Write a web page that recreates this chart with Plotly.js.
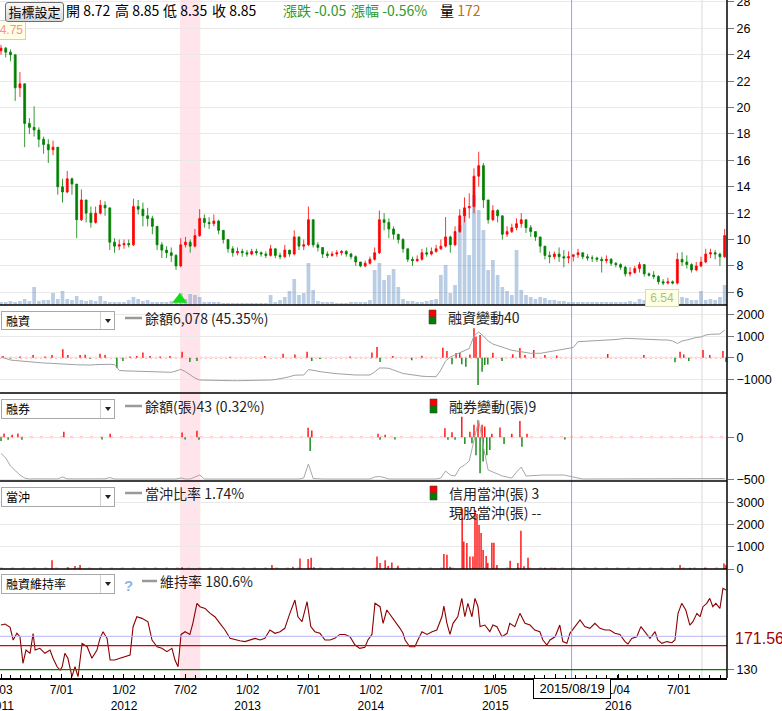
<!DOCTYPE html>
<html>
<head>
<meta charset="utf-8">
<script src="https://cdn.plot.ly/plotly-3.0.1.min.js"></script>
<style>
html,body{margin:0;padding:0;background:#fff;}
#wrap{position:relative;width:782px;height:711px;overflow:hidden;}
#chart{position:absolute;left:0;top:0;width:782px;height:711px;}
.ov{position:absolute;font-family:"Noto Sans CJK TC","Noto Sans",sans-serif;white-space:nowrap;}
.btn{left:5px;top:2px;width:57px;height:18px;border:1px solid #6e6e6e;border-radius:3px;background:linear-gradient(#f8f8f8,#d8d8d8);font-size:13px;line-height:18px;text-align:center;color:#000;}
.hd{top:0;font-size:14px;line-height:21px;color:#000;}
.dd{left:1px;width:112px;border:1px solid #a8a8a8;background:#fff;font-size:12px;color:#000;}
.dd .t{position:absolute;left:4px;top:0;}
.dd .sep{position:absolute;left:98px;top:0;bottom:0;width:1px;background:#d0d0d0;}
.dd .arr{position:absolute;left:103px;width:0;height:0;border-left:3px solid transparent;border-right:3px solid transparent;border-top:4px solid #222;}
</style>
</head>
<body>
<div id="wrap">
<div id="chart"></div>
<div class="ov btn">指標設定</div>
<div class="ov hd" style="left:66px;">開 8.72</div>
<div class="ov hd" style="left:115px;">高 8.85</div>
<div class="ov hd" style="left:163px;">低 8.35</div>
<div class="ov hd" style="left:212px;">收 8.85</div>
<div class="ov hd" style="left:283px;color:#2e9a2e;">漲跌 -0.05</div>
<div class="ov hd" style="left:351px;color:#2e9a2e;">漲幅 -0.56%</div>
<div class="ov hd" style="left:440px;">量 <span style="color:#c07010;">172</span></div>
<div class="ov dd" style="top:311px;height:17px;line-height:17px;"><span class="t">融資</span><span class="sep"></span><span class="arr" style="top:7px;"></span></div>
<div class="ov dd" style="top:399px;height:18px;line-height:18px;"><span class="t">融券</span><span class="sep"></span><span class="arr" style="top:7px;"></span></div>
<div class="ov dd" style="top:487px;height:18px;line-height:18px;"><span class="t">當沖</span><span class="sep"></span><span class="arr" style="top:7px;"></span></div>
<div class="ov dd" style="top:574px;height:18px;line-height:18px;"><span class="t">融資維持率</span><span class="sep"></span><span class="arr" style="top:7px;"></span></div>
</div>
<script>
// ---------- DATA (price/volume/balances sampled every 14 days from 2011-01-03) ----------
const startDate = '2011-01-03';
const gridStepDays = 14;

const priceOpen = [
 24.3,24.5,24.2,24.0,21.5,21.8,18.8,18.5,18.3,17.6,
 17.2,16.8,17.0,14.0,13.6,14.6,14.2,11.5,13.0,12.0,
 11.3,12.0,12.6,12.4,9.8,9.5,9.6,9.7,9.6,12.5,
 12.3,11.8,11.6,11.0,9.6,9.2,9.0,8.8,8.0,9.6,
 9.8,9.5,10.3,11.6,11.3,11.2,11.4,10.7,10.0,9.3,
 9.0,9.1,9.0,8.9,9.1,9.0,8.9,8.8,9.3,8.8,
 8.7,9.2,8.9,10.2,9.5,9.6,11.5,9.6,9.4,8.9,
 8.8,8.9,9.0,9.1,8.9,8.7,8.3,8.0,8.2,8.5,
 9.0,11.5,11.3,10.8,10.4,10.0,9.3,8.5,8.4,8.5,
 9.0,8.9,9.1,9.3,9.5,10.2,9.6,10.6,11.8,12.4,
 12.5,14.8,15.6,13.0,11.5,12.2,11.8,10.4,10.6,10.9,
 11.2,11.5,10.9,10.6,10.2,9.5,8.8,8.7,8.9,8.7,
 8.6,8.72,8.85,9.0,8.7,8.6,8.6,8.5,8.4,8.5,
 8.2,8.1,7.9,7.4,7.5,7.8,8.1,7.4,7.3,7.2,
 6.8,6.7,6.8,6.7,8.5,8.3,8.1,7.7,8.0,8.3,
 8.9,9.0,8.9,8.7];
const priceHigh = [
 24.75,24.6,24.4,24.0,22.7,21.8,19.2,20.1,18.5,17.8,
 17.6,17.5,17.0,14.6,15.2,14.7,14.2,13.8,13.0,12.5,
 12.5,13.0,12.9,12.4,10.1,10.0,10.0,10.0,13.1,13.0,
 12.8,12.4,11.8,11.0,9.8,9.5,9.4,8.9,10.1,10.2,
 10.0,10.8,12.3,11.9,11.7,11.9,11.5,10.7,10.0,9.5,
 9.4,9.3,9.2,9.3,9.3,9.1,9.1,9.6,9.3,9.0,
 9.6,9.2,10.7,10.2,10.0,12.5,11.5,9.8,9.4,9.1,
 9.1,9.2,9.2,9.2,9.0,8.8,8.3,8.4,8.7,9.4,
 12.2,12.0,11.6,11.0,10.4,10.1,9.3,8.7,8.8,9.3,
 9.4,9.4,9.6,10.0,11.7,10.3,11.0,12.3,13.2,13.5,
 15.4,16.65,15.8,13.0,12.6,12.3,11.8,11.0,11.2,11.6,
 12.0,11.5,11.1,10.6,10.2,9.5,9.1,9.1,9.4,9.2,
 9.1,8.85,9.3,9.0,8.9,8.8,8.7,8.7,8.8,8.6,
 8.3,8.2,8.0,7.9,8.0,8.3,8.1,7.5,7.6,7.3,
 7.0,7.1,6.9,9.0,9.05,8.8,8.2,8.3,8.7,9.3,
 9.3,9.2,9.0,10.8];
const priceLow = [
 24.0,23.8,23.5,20.5,20.8,17.0,18.0,17.8,17.0,16.5,
 15.8,16.4,13.4,12.8,13.5,13.4,10.1,11.4,11.3,10.9,
 11.2,11.9,11.8,9.2,9.0,9.2,9.3,9.4,9.5,11.9,
 11.0,11.0,10.4,9.2,8.6,8.6,8.3,7.7,7.9,9.4,
 9.0,9.4,10.2,10.9,10.8,11.0,10.4,9.7,9.0,8.7,
 8.8,8.7,8.7,8.8,8.8,8.7,8.6,8.7,8.6,8.5,
 8.6,8.7,8.8,9.2,9.2,9.5,9.4,9.1,8.6,8.6,
 8.7,8.7,8.8,8.7,8.5,8.0,7.9,7.9,8.1,8.4,
 8.9,10.7,10.1,10.0,9.7,9.0,8.3,8.0,8.3,8.4,
 8.7,8.8,9.0,9.2,9.4,9.0,9.5,10.5,11.3,11.6,
 12.0,14.0,12.4,11.2,11.4,11.3,10.0,10.2,10.5,10.7,
 10.9,10.5,10.2,9.9,9.0,8.5,8.2,8.5,8.3,7.9,
 8.2,8.35,8.6,8.5,8.4,8.3,8.3,7.5,8.2,8.0,
 7.9,7.7,7.2,7.2,7.4,7.5,7.2,7.2,7.0,6.6,
 6.54,6.6,6.6,6.6,8.0,7.8,7.5,7.6,7.9,8.2,
 8.6,8.5,8.0,8.6];
const priceClose = [
 24.5,24.2,24.0,21.5,21.8,18.8,18.5,18.3,17.6,17.2,
 16.8,17.0,14.0,13.6,14.6,14.2,11.5,13.0,12.0,11.3,
 12.0,12.6,12.4,9.8,9.5,9.6,9.7,9.6,12.5,12.3,
 11.8,11.6,11.0,9.6,9.2,9.0,8.8,8.0,9.6,9.8,
 9.5,10.3,11.6,11.3,11.2,11.4,10.7,10.0,9.3,9.0,
 9.1,9.0,8.9,9.1,9.0,8.9,8.8,9.3,8.8,8.7,
 9.2,8.9,10.2,9.5,9.6,11.5,9.6,9.4,8.9,8.8,
 8.9,9.0,9.1,8.9,8.7,8.3,8.0,8.2,8.5,9.0,
 11.5,11.3,10.8,10.4,10.0,9.3,8.5,8.4,8.5,9.0,
 8.9,9.1,9.3,9.5,10.2,9.6,10.6,11.8,12.4,12.5,
 14.8,15.6,13.0,11.5,12.2,11.8,10.4,10.6,10.9,11.2,
 11.5,10.9,10.6,10.2,9.5,8.8,8.7,8.9,8.7,8.6,
 8.7,8.85,9.0,8.7,8.6,8.6,8.5,8.4,8.5,8.2,
 8.1,7.9,7.4,7.5,7.8,8.1,7.4,7.3,7.2,6.8,
 6.7,6.8,6.7,8.5,8.3,8.1,7.7,8.0,8.3,8.9,
 9.0,8.9,8.7,10.3];
const volume = [
 600,600,800,600,800,1200,800,3600,800,1000,
 1000,2400,1200,2800,1200,1000,1800,1000,800,1000,
 800,1800,800,600,600,600,600,1000,1600,1200,
 800,1000,600,600,600,600,800,1000,2400,1200,
 2200,2000,1600,600,600,600,600,400,400,400,
 400,400,400,400,400,400,400,2000,600,1000,
 1600,2800,5200,2000,2400,8400,3000,800,600,600,
 600,400,400,400,600,600,600,600,1000,7000,
 8400,5000,6000,7200,3600,1200,800,800,600,600,
 800,1000,1200,6000,8000,2400,4000,16000,19000,10000,
 22000,19000,15000,7000,9000,6000,3600,2800,2000,11000,
 3000,2000,1600,1200,1600,1400,1000,1000,800,800,
 600,600,600,600,600,600,600,600,600,600,
 600,600,600,800,600,1200,1000,800,800,800,
 600,800,800,1200,1600,1400,1000,1000,2800,1000,
 1200,1000,1600,4000];
const marginBalance = [
 5223,5088,4953,4908,4863,4818,4773,4728,4719,4683,
 4665,4629,4593,4566,4566,4548,4521,4503,4503,4503,
 4539,4566,4566,4566,4548,4008,3981,3963,3963,3963,
 3936,3909,3900,3900,3891,3873,3846,3963,4116,3900,
 3603,3333,3153,3135,3126,3126,3117,3099,3090,3090,
 3090,3090,3090,3108,3126,3135,3144,3153,3198,3243,
 3351,3450,3576,3603,3603,4098,4053,3945,3873,3801,
 3756,3720,3693,3648,3603,3603,3603,3603,3603,3873,
 4233,4233,4206,4053,3918,3738,3675,3603,3540,3495,
 3468,3450,3450,4053,4863,5223,5403,5583,5763,5988,
 7113,7473,7113,6663,6393,6258,6078,5943,5826,5763,
 5673,5610,5556,5556,5556,5628,5700,5763,5853,5916,
 5988,6078,6600,6618,6645,6663,6690,6717,6735,6753,
 6798,6843,6906,6888,6861,6843,6798,6771,6753,6753,
 6753,6753,6663,6438,6663,6753,6888,6978,7023,7203,
 7266,7275,7293,7653];
const shortBalance = [
 330,276,180,120,72,36,24,26,25,24,
 24,26,25,48,26,25,25,24,24,24,
 25,25,26,42,24,24,24,24,24,24,
 24,24,24,24,24,24,24,24,36,24,
 24,48,72,24,24,24,24,24,24,24,
 24,24,24,24,24,24,24,24,24,24,
 24,24,24,24,36,204,30,24,24,24,
 24,24,24,24,24,24,24,24,24,48,
 54,42,24,24,24,24,24,24,24,24,
 24,24,24,36,120,72,60,156,192,240,
 492,732,408,132,108,84,60,48,36,108,
 168,60,66,66,70,72,72,70,68,72,
 60,52,36,24,24,24,24,24,24,24,
 24,24,24,24,24,24,24,24,24,24,
 24,24,24,24,24,24,24,24,24,24,
 26,28,30,30];

// readings at irregular days (day number counted from 2011-01-03)
const ratioDay = [0,12,27,36,47,56,65,74,86,95,101,115,130,145,154,166,175,181,189,198,210,219,228,240,255,269,284,293,302,314,323,337,352,367,382,391,402,417,435,447,462,476,491,506,515,524,533,545,559,568,580,589,604,619,633,648,663,678,693,707,722,737,752,767,781,796,811,826,840,855,870,879,891,906,917,929,944,959,974,988,1003,1018,1033,1048,1062,1077,1086,1098,1107,1122,1131,1142,1157,1172,1181,1190,1196,1210,1225,1234,1246,1261,1276,1290,1305,1311,1320,1329,1338,1352,1364,1373,1382,1394,1403,1412,1418,1432,1447,1456,1468,1483,1498,1506,1521,1536,1551,1566,1580,1595,1604,1616,1625,1640,1654,1663,1675,1684,1693,1705,1714,1728,1743,1758,1773,1788,1802,1817,1832,1847,1856,1867,1882,1894,1906,1921,1936,1944,1956,1971,1986,1995,2004,2015,2027,2039,2048,2060,2069,2078,2089,2098,2107,2116,2128,2137,2146];
const ratioVal = [185.6,186.9,182.7,166.9,175.3,171,138,154.5,150.4,175,154.5,156.6,150.4,154.5,144.2,133.7,129.6,133.7,150.4,144.2,121.3,133.7,121.3,162.8,158.6,144.2,154.5,169,177.3,169,142,142,144.2,146.2,148.3,183.5,195.9,193.9,189.6,166.9,158.6,156.6,152.4,156.6,142,133.7,173.9,177.3,173.9,188,212.6,208.4,206.3,200.1,195.9,187.7,179.4,169,167,166,165,167,169,167,169,179.4,175.3,177.3,181.5,200.1,216.7,195.9,189.7,214.6,183.6,177.3,175.3,167,167,169,173.9,173.9,171,160.7,156.6,157.8,167,173.9,212.6,208.4,187.7,204.3,195.9,187.7,181.5,175.3,167,158.6,158.6,167,177.3,173.9,177.3,179.4,195.9,209.2,187.7,173.9,187.7,195.9,218.8,195.9,212.6,195.9,218.8,208.4,183.6,185.6,177.3,185.6,183.6,171,175.3,187.7,183.6,200.1,187.7,185.6,179.4,177.3,167,160.7,167,171,185.6,165,162.8,175.3,180.6,187.7,191.8,183.6,181.5,187.7,181.5,179.4,179.4,175.3,173.9,165,162,169,171,183.6,177,169,177.3,167,162.8,165,163.6,167,200.1,212.6,204.3,185.6,189.7,200.1,195.9,208.4,212.6,218.8,208.4,212.6,206.3,231.2,229.2];
const marginChgDay = [6,27,56,95,130,151,183,198,234,249,263,293,308,343,361,382,402,420,441,471,500,536,559,580,678,781,835,870,906,920,944,1033,1098,1113,1122,1160,1216,1246,1308,1320,1335,1347,1358,1364,1376,1388,1400,1406,1412,1418,1424,1432,1441,1456,1483,1515,1536,1551,1577,1610,1645,1796,1903,1995,2010,2021,2036,2078,2098,2137,2146];
const marginChgVal = [80,-40,50,120,60,120,390,120,120,140,-50,180,120,-480,-150,50,80,240,80,60,80,280,-200,-150,40,80,180,150,280,-150,-60,60,240,500,-200,80,-120,90,465,310,-300,220,220,-300,-420,150,1370,980,-1270,1060,-650,-340,-320,230,-150,160,450,120,360,120,100,170,120,-215,280,150,-150,360,120,310,-200];
const shortChgDay = [0,9,21,33,50,62,186,299,323,536,545,580,586,909,915,920,1116,1122,1137,1166,1314,1323,1335,1344,1364,1373,1388,1394,1400,1406,1412,1418,1424,1427,1432,1438,1447,1453,1477,1489,1512,1536,1542,1557,1669];
const shortChgVal = [-45,45,-30,30,45,-30,65,-25,40,55,-25,75,-30,110,-160,80,40,-30,30,-25,105,-30,60,-30,240,-80,65,-70,145,-210,200,-420,145,-285,125,-210,-150,40,115,-80,40,190,-110,40,-25];
const dayTradeDay = [151,198,219,234,536,802,864,885,909,918,926,1113,1122,1137,1146,1157,1175,1311,1320,1329,1365,1370,1379,1388,1397,1403,1409,1415,1421,1427,1436,1441,1453,1459,1468,1507,1530,1539,1548,1560,1610,1640,2010,2039,2084,2140,2146];
const dayTradeVal = [400,77,135,180,77,180,100,480,450,510,80,560,270,400,135,290,150,680,650,100,2740,1240,1180,560,560,2670,2490,1990,1630,860,590,270,1190,1190,180,375,270,1730,120,510,60,60,180,60,60,250,180];

const xTickDates = ['2011-01-03','2011-07-01','2012-01-02','2012-07-02','2013-01-02','2013-07-01','2014-01-02','2014-07-01','2015-01-05','2015-07-01','2016-01-04','2016-07-01'];
const xTickText  = ['1/03<br>2011','7/01','1/02<br>2012','7/02','1/02<br>2013','7/01','1/02<br>2014','7/01','1/05<br>2015','','1/04<br>2016','7/01'];
const priceTicks = [6,8,10,12,14,16,18,20,22,24,26,28];
const marginTicks = [-1000,0,1000,2000];
const shortTicks = [-500,0];
const dayTradeTicks = [0,1000,2000,3000];
const ratioTicks = [130];
const crossDate = '2015-08-19', crossRatio = 171.56;
const ratioWarn = 160, ratioCall = 130;
const highlightStart = '2012-06-16', highlightEnd = '2012-08-15';
const markLineDate = '2016-09-08';
const lowSignalDate = '2012-06-15';
const maxPrice = 24.75, minPrice = 6.54;

// ---------- helpers ----------
const DAY_MS = 86400000;
const START_MS = Date.parse(startDate + 'T00:00:00Z');
const dayToDate = d => new Date(START_MS + d * DAY_MS).toISOString().slice(0, 10);
const gridDates = priceClose.map((_, i) => dayToDate(i * gridStepDays));
const sgnColor = v => v >= 0 ? '#ff0000' : '#008000';

const PW = 727, PH = 678;
const px = x => x / PW;
const py = y => (PH - y) / PH;
const dom = (top, bot) => [py(bot), py(top)];

const tickFont = {family: 'Liberation Sans, Arial, sans-serif', size: 12.5, color: '#000'};
const yCommon = {anchor: 'x', side: 'right', ticks: 'outside', ticklen: 6, tickcolor: '#777',
  tickfont: tickFont, zeroline: false, showline: false, fixedrange: true, gridcolor: '#e9e9e9',
  tickmode: 'array', ticklabeloverflow: 'allow'};

const traces = [
  {type: 'bar', x: gridDates, y: volume, xaxis: 'x', yaxis: 'y', width: 11 * DAY_MS,
   marker: {color: 'rgba(100,145,195,0.45)', line: {width: 0}}, hoverinfo: 'skip'},
  {type: 'candlestick', x: gridDates, open: priceOpen, high: priceHigh, low: priceLow, close: priceClose,
   xaxis: 'x', yaxis: 'y2', whiskerwidth: 0,
   increasing: {line: {color: '#ff0000', width: 0.8}, fillcolor: '#ff0000'},
   decreasing: {line: {color: '#008000', width: 0.8}, fillcolor: '#008000'}, hoverinfo: 'skip'},
  {type: 'scatter', mode: 'markers', x: [lowSignalDate], y: [5.45], xaxis: 'x', yaxis: 'y2',
   marker: {symbol: 'triangle-up', size: 13, color: '#11dd11'}, hoverinfo: 'skip'},
  {type: 'bar', x: marginChgDay.map(dayToDate), y: marginChgVal, xaxis: 'x', yaxis: 'y3', width: 4 * DAY_MS,
   marker: {color: marginChgVal.map(sgnColor), line: {width: 0}}, hoverinfo: 'skip'},
  {type: 'scatter', mode: 'lines', x: gridDates, y: marginBalance, xaxis: 'x', yaxis: 'y4',
   line: {color: '#a0a0a0', width: 1}, hoverinfo: 'skip'},
  {type: 'bar', x: shortChgDay.map(dayToDate), y: shortChgVal, xaxis: 'x', yaxis: 'y5', width: 4 * DAY_MS,
   marker: {color: shortChgVal.map(sgnColor), line: {width: 0}}, hoverinfo: 'skip'},
  {type: 'scatter', mode: 'lines', x: gridDates, y: shortBalance, xaxis: 'x', yaxis: 'y6',
   line: {color: '#a8a8a8', width: 1}, hoverinfo: 'skip'},
  {type: 'bar', x: dayTradeDay.map(dayToDate), y: dayTradeVal, xaxis: 'x', yaxis: 'y7', width: 4 * DAY_MS,
   marker: {color: '#ff0000', line: {width: 0}}, hoverinfo: 'skip'},
  {type: 'scatter', mode: 'lines', x: ratioDay.map(dayToDate), y: ratioVal, xaxis: 'x', yaxis: 'y8',
   line: {color: '#8b0000', width: 1.1}, hoverinfo: 'skip'}
];

const hline = (yPx, color, w) => ({type: 'line', xref: 'paper', yref: 'paper', x0: 0, x1: 1, y0: py(yPx), y1: py(yPx), line: {color: color, width: w}});
const rectPx = (x0, y0, x1, y1, fill) => ({type: 'rect', xref: 'paper', yref: 'paper', x0: px(x0), x1: px(x1), y0: py(y1), y1: py(y0), fillcolor: fill, line: {color: '#444', width: 0.6}});
const dashPx = (x0, x1, y) => ({type: 'line', xref: 'paper', yref: 'paper', x0: px(x0), x1: px(x1), y0: py(y), y1: py(y), line: {color: '#999', width: 2.5}});

const shapes = [
  {type: 'rect', xref: 'x', yref: 'paper', x0: highlightStart, x1: highlightEnd, y0: 0, y1: 1, fillcolor: 'rgba(255,150,175,0.25)', line: {width: 0}, layer: 'below'},
  {type: 'line', xref: 'x', yref: 'paper', x0: markLineDate, x1: markLineDate, y0: 0, y1: 1, line: {color: '#d9d9d9', width: 1}, layer: 'below'},
  {type: 'line', xref: 'x', yref: 'paper', x0: crossDate, x1: crossDate, y0: 0, y1: 1, line: {color: '#9c9cff', width: 1}},
  {type: 'line', xref: 'paper', yref: 'y3', x0: 0, x1: 1, y0: 0, y1: 0, line: {color: '#ffb0b0', width: 2, dash: '2px,3px'}, layer: 'below'},
  {type: 'line', xref: 'paper', yref: 'y5', x0: 0, x1: 1, y0: 0, y1: 0, line: {color: '#ffb8b8', width: 2, dash: '3px,7px'}, layer: 'below'},
  {type: 'line', xref: 'paper', yref: 'y7', x0: 0, x1: 1, y0: 35, y1: 35, line: {color: '#ffc0c0', width: 2, dash: '3px,8px'}, layer: 'below'},
  {type: 'line', xref: 'paper', yref: 'y8', x0: 0, x1: 1, y0: crossRatio, y1: crossRatio, line: {color: '#b8b8f4', width: 1}},
  {type: 'line', xref: 'paper', yref: 'y8', x0: 0, x1: 1, y0: ratioWarn, y1: ratioWarn, line: {color: '#e00000', width: 1.2}},
  {type: 'line', xref: 'paper', yref: 'y8', x0: 0, x1: 1, y0: ratioCall, y1: ratioCall, line: {color: '#008000', width: 1.2}},
  hline(305, '#000', 1.5), hline(393, '#000', 1.5), hline(481, '#000', 1.5), hline(569, '#000', 1.5),
  {type: 'line', xref: 'paper', yref: 'paper', x0: 1, x1: 1, y0: 0, y1: 1, line: {color: '#000', width: 1.5}},
  dashPx(125, 142, 318), dashPx(125, 142, 406), dashPx(125, 142, 493), dashPx(142, 157, 581),
  rectPx(429, 310, 436, 317, '#ff0000'), rectPx(429, 317, 436, 324, '#008000'),
  rectPx(430, 399, 437, 406, '#ff0000'), rectPx(430, 406, 437, 413, '#008000'),
  rectPx(430, 486, 437, 493, '#ff0000'), rectPx(430, 493, 437, 500, '#008000')
];

const cjk = {family: '"Noto Sans CJK TC", "Noto Sans", sans-serif', size: 14, color: '#222'};
const lab = (x, y, text, extra) => Object.assign({xref: 'paper', yref: 'paper', x: px(x), y: py(y), text: text, showarrow: false, xanchor: 'left', yanchor: 'middle', font: cjk}, extra || {});
const annotations = [
  lab(143, 318, '餘額6,078 (45.35%)'),
  lab(446, 317, '融資變動40'),
  lab(143, 406, '餘額(張)43 (0.32%)'),
  lab(447, 406, '融券變動(張)9'),
  lab(143, 493, '當沖比率 1.74%'),
  lab(447, 493, '信用當沖(張) 3'),
  lab(447, 512, '現股當沖(張) --'),
  lab(122, 585, '<b>?</b>', {font: {family: 'Liberation Sans, Arial', size: 15, color: '#8fb4e8'}}),
  lab(158, 581, '維持率 180.6%'),
  {xref: 'paper', yref: 'paper', x: px(26), y: py(30), xanchor: 'right', yanchor: 'middle', showarrow: false,
   text: String(maxPrice), bgcolor: '#ffffe6', bordercolor: '#cfcfcf', borderwidth: 1, borderpad: 2,
   font: {family: 'Liberation Sans, Arial', size: 12, color: '#f590a0'}},
  {xref: 'x', yref: 'y2', x: dayToDate(1956), y: 5.55, xanchor: 'center', yanchor: 'middle', showarrow: false,
   text: '&nbsp;' + minPrice + '&nbsp;', bgcolor: '#ffffe2', bordercolor: '#d8d8c0', borderwidth: 1, borderpad: 1,
   font: {family: 'Liberation Sans, Arial', size: 12, color: '#a8bf90'}},
  {xref: 'x', yref: 'paper', x: crossDate, y: (PH - 688.5) / PH, xanchor: 'center', yanchor: 'middle', showarrow: false,
   text: '&nbsp;2015/08/19&nbsp;', bgcolor: '#ffffff', bordercolor: '#000', borderwidth: 1, borderpad: 2,
   font: {family: 'Liberation Sans, Arial', size: 13, color: '#000'}},
  {xref: 'paper', yref: 'y8', x: 1, y: crossRatio, xanchor: 'left', yanchor: 'middle', xshift: 6, yshift: -2, showarrow: false,
   text: String(crossRatio), font: {family: 'Liberation Sans, Arial', size: 16, color: '#a00000'}}
];

const layout = {
  width: 782, height: 711, margin: {l: 0, r: 55, t: 0, b: 33, pad: 0},
  paper_bgcolor: '#fff', plot_bgcolor: 'rgba(0,0,0,0)', showlegend: false, hovermode: false,
  barmode: 'overlay', boxgap: 0.6, boxgroupgap: 0,
  font: {family: 'Liberation Sans, Arial, sans-serif', size: 12, color: '#000'},
  xaxis: {type: 'date', domain: [0, 1], anchor: 'y8', range: ['2010-12-31', '2016-11-21'],
    tickmode: 'array', tickvals: xTickDates, ticktext: xTickText, ticks: 'inside', ticklen: 4, tickcolor: '#000',
    showline: true, linecolor: '#000', linewidth: 1.5, showgrid: false, zeroline: false,
    tickfont: {family: 'Liberation Sans, Arial, sans-serif', size: 12, color: '#000'},
    ticklabeloverflow: 'allow', rangeslider: {visible: false}, fixedrange: true,
    minor: {ticks: 'inside', ticklen: 3, tickcolor: '#000', dtick: 'M1', tick0: '2011-01-01', showgrid: false}},
  yaxis: {domain: dom(0, 305), anchor: 'x', range: [0, 61000], visible: false, fixedrange: true},
  yaxis2: Object.assign({}, yCommon, {overlaying: 'y', range: [5.04, 28.15], tickvals: priceTicks, showgrid: true}),
  yaxis3: Object.assign({}, yCommon, {domain: dom(305, 393), range: [-1642, 2451], tickvals: marginTicks, showgrid: true}),
  yaxis4: {overlaying: 'y3', anchor: 'x', range: [1983, 9903], visible: false, fixedrange: true},
  yaxis5: Object.assign({}, yCommon, {domain: dom(393, 481), range: [-512, 518], tickvals: shortTicks, showgrid: true}),
  yaxis6: {overlaying: 'y5', anchor: 'x', range: [0, 1056], visible: false, fixedrange: true},
  yaxis7: Object.assign({}, yCommon, {domain: dom(481, 569), range: [0, 3982], tickvals: dayTradeTicks, showgrid: true}),
  yaxis8: Object.assign({}, yCommon, {domain: dom(569, 678), range: [119.7, 255.3], tickvals: ratioTicks, showgrid: false}),
  shapes: shapes, annotations: annotations
};

Plotly.newPlot('chart', traces, layout, {staticPlot: true, displayModeBar: false});
</script>
</body>
</html>
